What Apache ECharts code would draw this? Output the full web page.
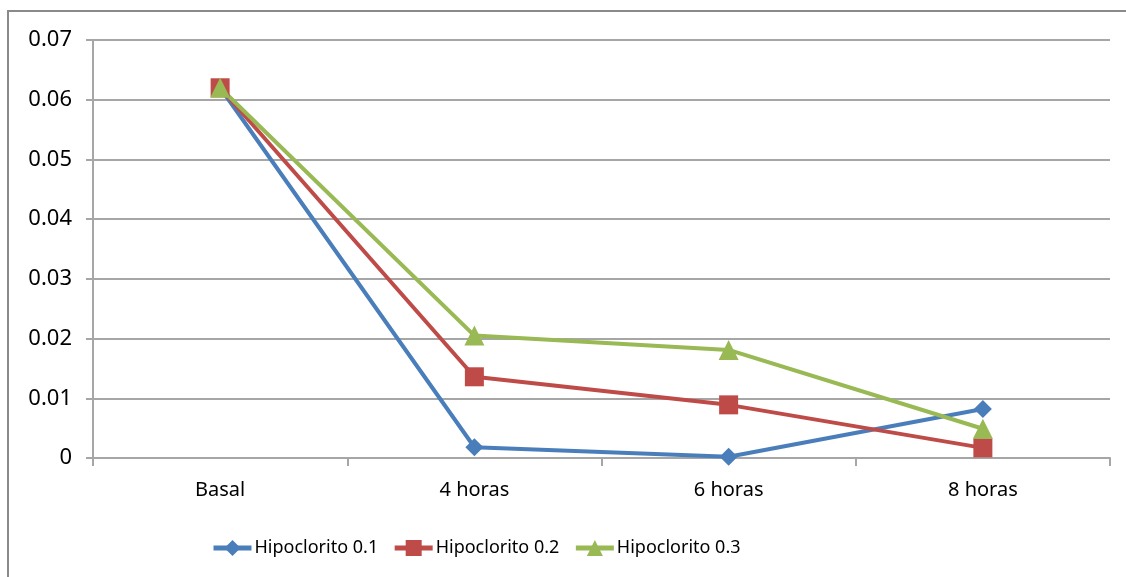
<!DOCTYPE html>
<html>
<head>
<meta charset="utf-8">
<script src="https://cdn.jsdelivr.net/npm/echarts@6/dist/echarts.min.js"></script>
<style>
html, body { margin: 0; padding: 0; background: #fff; }
#chart { width: 1126px; height: 577px; }
</style>
</head>
<body>
<div id="chart"></div>
<script>
// categorias y valores
var categorias = ['Basal', '4 horas', '6 horas', '8 horas'];
var hipo01 = [0.062, 0.0018, 0.0002, 0.0082];
var hipo02 = [0.062, 0.0136, 0.0089, 0.0017];
var hipo03 = [0.062, 0.0205, 0.0181, 0.0049];
var nombres = ['Hipoclorito 0.1', 'Hipoclorito 0.2', 'Hipoclorito 0.3'];

var fuente = '"Noto Sans", "Open Sans", sans-serif';

function serie(nombre, datos, color, simbolo, tam) {
    return {
        name: nombre,
        type: 'line',
        data: datos,
        symbol: simbolo,
        symbolSize: tam,
        lineStyle: { color: color, width: 4 },
        itemStyle: { color: color },
        emphasis: { disabled: true },
        z: 2
    };
}

var myChart = echarts.init(document.getElementById('chart'));
var option = {
    animation: false,
    graphic: [{
        type: 'rect',
        shape: { x: 8, y: 11, width: 1130, height: 580 },
        style: { fill: 'none', stroke: '#8a8a8a', lineWidth: 2 },
        silent: true
    }],
    grid: {
        left: 93,
        right: 16,
        top: 40,
        bottom: 119
    },
    legend: {
        data: nombres,
        top: 534,
        left: 206,
        itemWidth: 38,
        itemHeight: 20,
        itemGap: 14,
        lineStyle: { width: 5 },
        textStyle: { fontFamily: fuente, fontSize: 18, color: '#000', padding: [0, 0, 0, -2] }
    },
    xAxis: {
        type: 'category',
        data: categorias,
        boundaryGap: true,
        axisLine: { lineStyle: { color: '#a6a6a6', width: 2 } },
        axisTick: { show: true, length: 8, lineStyle: { color: '#a6a6a6', width: 2 } },
        axisLabel: { fontFamily: fuente, fontSize: 20, color: '#000', margin: 22 }
    },
    yAxis: {
        type: 'value',
        min: 0,
        max: 0.07,
        interval: 0.01,
        axisLine: { show: true, lineStyle: { color: '#a6a6a6', width: 2 } },
        axisTick: { show: true, length: 7, lineStyle: { color: '#a6a6a6', width: 2 } },
        splitLine: { lineStyle: { color: '#a6a6a6', width: 2 } },
        axisLabel: {
            fontFamily: fuente, fontSize: 22, color: '#000', margin: 21,
            formatter: function (v) { return v === 0 ? '0' : v.toFixed(2); }
        }
    },
    series: [
        serie(nombres[0], hipo01, '#4a7ebb', 'diamond', 18),
        serie(nombres[1], hipo02, '#be4b48', 'rect', 19),
        serie(nombres[2], hipo03, '#98b954', 'triangle', 20)
    ]
};
myChart.setOption(option, true);
</script>
</body>
</html>
